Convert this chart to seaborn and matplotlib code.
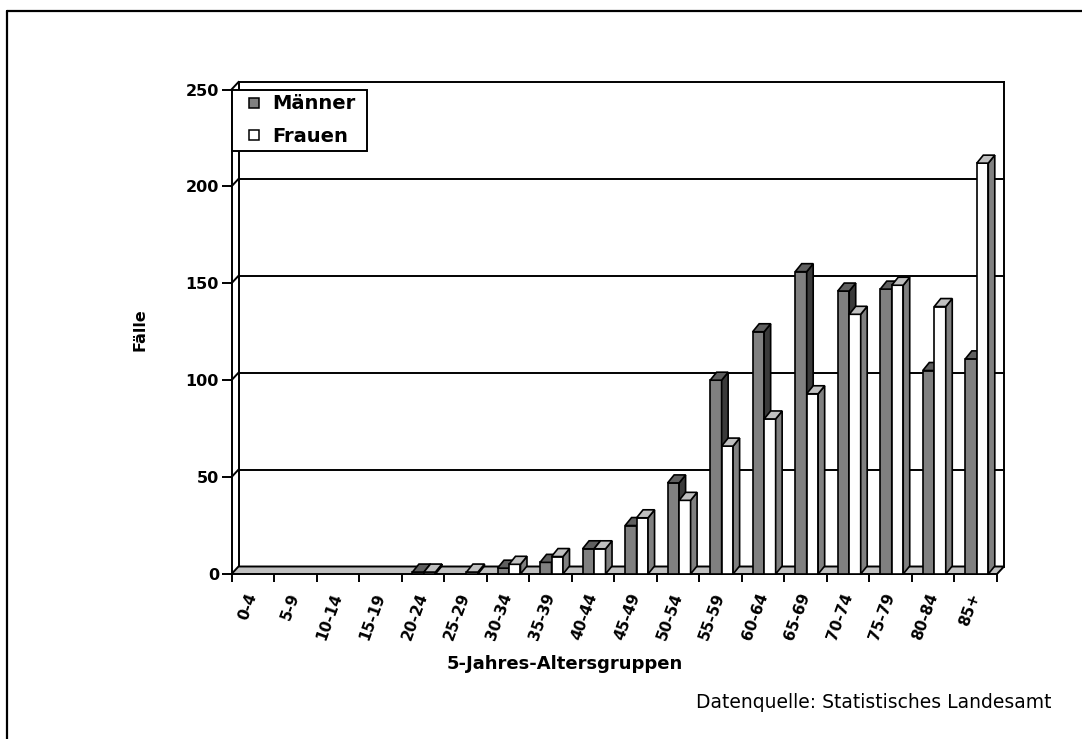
import matplotlib
matplotlib.use("Agg")
import matplotlib.pyplot as plt
from matplotlib.patches import Polygon, Rectangle
from matplotlib.lines import Line2D
import pandas as pd
import seaborn as sns

# Fälle je 5-Jahres-Altersgruppe
age_groups = ["0-4", "5-9", "10-14", "15-19", "20-24", "25-29", "30-34", "35-39",
              "40-44", "45-49", "50-54", "55-59", "60-64", "65-69", "70-74",
              "75-79", "80-84", "85+"]
men = [0, 0, 0, 0, 1, 0, 3, 6, 13, 25, 47, 100, 125, 156, 146, 147, 105, 111]
women = [0, 0, 0, 0, 1, 1, 5, 9, 13, 29, 38, 66, 80, 93, 134, 149, 138, 212]
series_names = ["Männer", "Frauen"]
y_ticks = [0, 50, 100, 150, 200, 250]

front_colors = {"Männer": "#808080", "Frauen": "#ffffff"}
top_colors = {"Männer": "#5f5f5f", "Frauen": "#c0c0c0"}
side_colors = {"Männer": "#3a3a3a", "Frauen": "#808080"}

sns.set_theme(style="white")
plt.rcParams["font.family"] = ["DejaVu Sans"]
plt.rcParams.update({"text.color": "black", "axes.labelcolor": "black",
                     "xtick.color": "black", "ytick.color": "black"})

W, H = 1082, 739
fig = plt.figure(figsize=(W / 100, H / 100), dpi=100)
fig.patch.set_facecolor("white")

# axes box = front plane of the 3-D plot (pixel geometry)
left_px, right_px, top_px, bottom_px = 231.5, 997.0, 89.5, 574.0
ax = fig.add_axes([left_px / W, 1 - bottom_px / H,
                   (right_px - left_px) / W, (bottom_px - top_px) / H])
ax.set_facecolor("none")

df = pd.DataFrame({
    "Altersgruppe": age_groups * 2,
    "Fälle": men + women,
    "Geschlecht": ["Männer"] * len(men) + ["Frauen"] * len(women),
})

sns.barplot(data=df, x="Altersgruppe", y="Fälle", hue="Geschlecht",
            order=age_groups, hue_order=series_names, palette=front_colors,
            width=0.54, saturation=1, errorbar=None, edgecolor="black",
            linewidth=1.2, legend=False, ax=ax)
bars = sorted([p for p in ax.patches if isinstance(p, Rectangle)], key=lambda p: p.get_x())

n = len(age_groups)
ymax = 250
ax.set_xlim(-0.5, n - 0.5)
ax.set_ylim(0, ymax)

# pixel -> data unit conversions for the oblique depth offsets
ux = (right_px - left_px) / n
uy = (bottom_px - top_px) / ymax
bar_dx, bar_dy = 6.5 / ux, 8.0 / uy
wall_dx, wall_dy = 7.0 / ux, 7.5 / uy

x0, x1 = -0.5, n - 0.5
line_kw = dict(color="black", lw=1.4, clip_on=False, solid_capstyle="projecting")

# floor slab
ax.add_patch(Polygon([(x0, 0), (x1, 0), (x1 + wall_dx, wall_dy), (x0 + wall_dx, wall_dy)],
                     closed=True, facecolor="#c0c0c0", edgecolor="black", lw=1.4,
                     zorder=1.5, clip_on=False))

# back wall: gridlines, top edge, side edges
for v in y_ticks[1:]:
    ax.add_line(Line2D([x0 + wall_dx, x1 + wall_dx], [v + wall_dy, v + wall_dy], zorder=1, **line_kw))
    ax.add_line(Line2D([x0, x0 + wall_dx], [v, v + wall_dy], zorder=1, **line_kw))
ax.add_line(Line2D([x0 + wall_dx, x0 + wall_dx], [wall_dy, ymax + wall_dy], zorder=1, **line_kw))
ax.add_line(Line2D([x1 + wall_dx, x1 + wall_dx], [wall_dy, ymax + wall_dy], zorder=1, **line_kw))

# 3-D faces for each bar
for rank, p in enumerate(bars):
    r, g, b, _ = p.get_facecolor()
    series = "Männer" if r < 0.9 else "Frauen"
    h = p.get_height()
    if h <= 0:
        p.set_visible(False)
        continue
    x = p.get_x() + 0.025
    w = p.get_width()
    p.set_x(x)
    z = 3 + rank * 0.01
    p.set_zorder(z)
    p.set_clip_on(False)
    side = Polygon([(x + w, 0), (x + w + bar_dx, bar_dy), (x + w + bar_dx, h + bar_dy), (x + w, h)],
                   closed=True, facecolor=side_colors[series], edgecolor="black",
                   lw=1.2, zorder=z, clip_on=False)
    top = Polygon([(x, h), (x + w, h), (x + w + bar_dx, h + bar_dy), (x + bar_dx, h + bar_dy)],
                  closed=True, facecolor=top_colors[series], edgecolor="black",
                  lw=1.2, zorder=z, clip_on=False)
    ax.add_patch(side)
    ax.add_patch(top)

# axes, ticks and labels
for s in ["top", "right", "bottom"]:
    ax.spines[s].set_visible(False)
ax.spines["left"].set_color("black")
ax.spines["left"].set_linewidth(1.4)
ax.spines["left"].set_zorder(2)

ax.set_yticks(y_ticks)
ax.set_yticklabels([str(v) for v in y_ticks], fontsize=11.5, fontweight="bold")
ax.tick_params(axis="y", direction="out", length=7, width=1.4, pad=2, colors="black", left=True)

ax.set_xticks(range(n))
ax.set_xticks([i - 0.5 for i in range(n + 1)], minor=True)
ax.tick_params(axis="x", which="major", length=0, pad=14)
ax.tick_params(axis="x", which="minor", direction="out", length=6, width=1.4,
               colors="black", bottom=True)
ax.set_xticklabels(age_groups, fontsize=11, fontweight="bold")
for lbl in ax.get_xticklabels():
    lbl.set_rotation(70)
    lbl.set_ha("right")
    lbl.set_va("center")
    lbl.set_rotation_mode("anchor")

ax.set_ylabel("Fälle", fontsize=11.5, fontweight="bold", color="black")
ax.yaxis.set_label_coords((147 - left_px) / (right_px - left_px),
                          (bottom_px - 330) / (bottom_px - top_px))
ax.set_xlabel("5-Jahres-Altersgruppen", fontsize=13, fontweight="bold", color="black")
ax.xaxis.set_label_coords((565 - left_px) / (right_px - left_px),
                          (bottom_px - 655) / (bottom_px - top_px))

# legend
handles = [Line2D([], [], linestyle="none", marker="s", markersize=7.0,
                  markerfacecolor=front_colors[s], markeredgecolor="black",
                  markeredgewidth=1.1) for s in series_names]
leg_x0, leg_y1 = left_px / W, 1 - 89.5 / H
leg_w = (367 - left_px) / W
leg = ax.legend(handles, series_names, loc="upper left",
                bbox_to_anchor=(leg_x0, leg_y1 - 0.1, leg_w, 0.1), mode="expand",
                bbox_transform=fig.transFigure,
                frameon=True, fancybox=False, framealpha=1, edgecolor="black",
                borderaxespad=0, borderpad=0.25, handlelength=1.85,
                handletextpad=0.0, labelspacing=0.7,
                prop={"size": 14, "weight": "bold"})
leg.get_frame().set_linewidth(1.4)
leg.set_zorder(20)

fig.text(696 / W, 1 - 702 / H, "Datenquelle: Statistisches Landesamt",
         fontsize=13.5, ha="left", va="center", color="black")

# outer frame of the chart area
fig.add_artist(Line2D([6.5 / W, 1.0], [1 - 10.5 / H, 1 - 10.5 / H],
                      transform=fig.transFigure, color="black", lw=1.6))
fig.add_artist(Line2D([6.5 / W, 6.5 / W], [0.0, 1 - 10.5 / H],
                      transform=fig.transFigure, color="black", lw=1.6))

fig.savefig("out.png", dpi=100)
